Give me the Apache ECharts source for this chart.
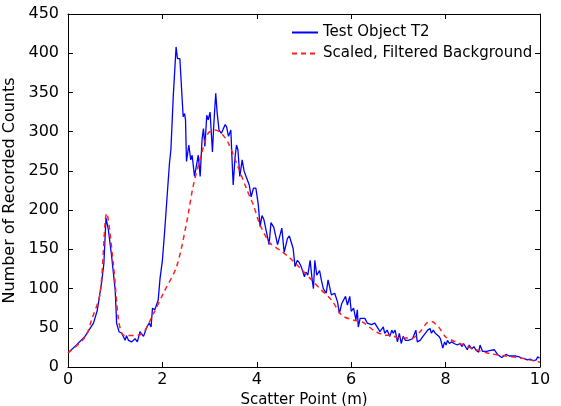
<!DOCTYPE html>
<html>
<head>
<meta charset="utf-8">
<script src="https://cdn.jsdelivr.net/npm/echarts@6/dist/echarts.min.js"></script>
<style>
  html, body { margin: 0; padding: 0; background: #fff; }
  #chart { width: 561px; height: 406px; }
</style>
</head>
<body>
<div id="chart"></div>
<script>
  // Test Object T2 (blue solid)
  var testX = [0, 0.18, 0.36, 0.54, 0.62, 0.71, 0.76, 0.805, 0.855, 0.925, 1.0, 1.03, 1.08, 1.14, 1.18, 1.21, 1.24, 1.28, 1.35, 1.42, 1.47, 1.525, 1.56, 1.6, 1.67, 1.72, 1.76, 1.79, 1.84, 1.91, 1.95, 2.0, 2.05, 2.09, 2.15, 2.18, 2.23, 2.29, 2.32, 2.37, 2.44, 2.47, 2.49, 2.51, 2.56, 2.6, 2.63, 2.68, 2.72, 2.76, 2.8, 2.84, 2.87, 2.9, 2.94, 2.97, 3.01, 3.06, 3.09, 3.13, 3.16, 3.2, 3.25, 3.28, 3.33, 3.36, 3.4, 3.45, 3.47, 3.5, 3.54, 3.57, 3.6, 3.64, 3.69, 3.73, 3.79, 3.84, 3.88, 3.93, 3.98, 4.03, 4.07, 4.11, 4.15, 4.18, 4.26, 4.3, 4.36, 4.44, 4.53, 4.58, 4.65, 4.69, 4.77, 4.81, 4.86, 4.9, 4.94, 5.01, 5.04, 5.08, 5.13, 5.17, 5.2, 5.23, 5.27, 5.3, 5.33, 5.37, 5.41, 5.47, 5.51, 5.55, 5.58, 5.61, 5.65, 5.71, 5.75, 5.8, 5.84, 5.88, 5.92, 5.97, 6.0, 6.05, 6.1, 6.13, 6.15, 6.19, 6.24, 6.29, 6.34, 6.43, 6.5, 6.53, 6.61, 6.65, 6.68, 6.71, 6.76, 6.82, 6.86, 6.89, 6.93, 6.98, 7.02, 7.06, 7.1, 7.15, 7.18, 7.21, 7.25, 7.3, 7.37, 7.4, 7.46, 7.52, 7.57, 7.62, 7.67, 7.7, 7.74, 7.78, 7.82, 7.86, 7.89, 7.94, 7.98, 8.01, 8.04, 8.08, 8.13, 8.18, 8.25, 8.3, 8.35, 8.38, 8.46, 8.5, 8.55, 8.6, 8.65, 8.7, 8.73, 8.78, 8.82, 8.87, 8.93, 9.03, 9.07, 9.1, 9.19, 9.23, 9.28, 9.35, 9.42, 9.49, 9.56, 9.61, 9.66, 9.73, 9.79, 9.86, 9.92, 9.95, 9.99]
  var testY = [18, 28, 39, 56, 72, 107, 132, 190, 175, 141, 98, 56, 45, 43, 38, 34, 40, 34, 32, 36, 32, 45, 47, 39, 51, 56, 51, 75, 73, 85, 113, 136, 175, 209, 260, 277, 345, 408, 393, 393, 319, 323, 315, 262, 283, 264, 270, 243, 243, 270, 243, 290, 304, 281, 321, 315, 325, 274, 310, 349, 324, 302, 298, 298, 309, 306, 294, 302, 272, 232, 268, 283, 277, 243, 264, 250, 240, 232, 217, 228, 228, 208, 179, 193, 188, 190, 156, 184, 178, 156, 177, 146, 164, 167, 151, 128, 136, 133, 128, 115, 121, 117, 136, 113, 100, 136, 117, 115, 123, 110, 100, 94, 111, 109, 92, 94, 94, 83, 68, 81, 83, 90, 79, 90, 71, 75, 60, 73, 51, 62, 62, 62, 56, 54, 56, 58, 45, 45, 51, 43, 47, 39, 47, 43, 47, 32, 43, 30, 39, 34, 32, 34, 36, 36, 47, 32, 34, 39, 43, 47, 49, 43, 47, 43, 45, 39, 36, 24, 32, 28, 34, 30, 32, 30, 28, 30, 26, 30, 22, 28, 23, 26, 21, 19, 28, 20, 22, 20, 21, 22, 22, 16, 12, 14, 16, 14, 14, 14, 13, 11, 11, 9, 10, 8, 9, 13, 11]

  // Scaled, Filtered Background (red dashed)
  var bgX = [0, 0.36, 0.5, 0.68, 0.82, 0.96, 1.07, 1.15, 1.24, 1.53, 1.81, 2.02, 2.3, 2.51, 2.65, 2.83, 2.97, 3.11, 3.25, 3.4, 3.57, 3.79, 3.93, 4.07, 4.28, 4.49, 4.7, 4.92, 5.13, 5.37, 5.59, 5.8, 6.04, 6.25, 6.47, 6.68, 6.86, 7.03, 7.3, 7.46, 7.6, 7.7, 7.85, 7.99, 8.1, 8.38, 8.65, 8.94, 9.28, 9.63, 9.93, 10]
  var bgY = [18, 38, 60, 94, 196, 132, 60, 42, 40, 41, 68, 94, 128, 183, 230, 272, 298, 302, 298, 285, 260, 226, 206, 181, 158, 149, 139, 126, 113, 98, 85, 66, 60, 57, 47, 41, 40, 37, 37, 45, 56, 58, 51, 39, 35, 28, 22, 17, 14, 11, 7, 6]

  var xTicks = [0, 2, 4, 6, 8, 10]
  var yTicks = [0, 50, 100, 150, 200, 250, 300, 350, 400, 450]

  function pairs(xs, ys) {
    return xs.map(function (x, i) { return [x, ys[i]] })
  }

  var font = 'DejaVu Sans'
  var myChart = echarts.init(document.getElementById('chart'))

  var frameAxis = {
    axisLine: { show: true, onZero: false, lineStyle: { color: '#000', width: 1 } },
    axisTick: { show: true, inside: true, length: 5, lineStyle: { color: '#000' } },
    splitLine: { show: false }
  }

  var option = {
    animation: false,
    backgroundColor: '#fff',
    textStyle: { fontFamily: font, color: '#000' },
    grid: { left: 68, right: 21, top: 14, bottom: 39, containLabel: false, outerBoundsMode: 'none' },
    legend: {
      orient: 'vertical',
      left: 286,
      top: 20,
      itemWidth: 26,
      itemHeight: 12,
      itemGap: 6,
      itemStyle: { opacity: 0 },
      textStyle: { fontFamily: font, fontSize: 15, color: '#000' },
      data: ['Test Object T2', 'Scaled, Filtered Background']
    },
    xAxis: [
      Object.assign({}, frameAxis, {
        type: 'value', min: 0, max: 10, interval: 2, position: 'bottom',
        name: 'Scatter Point (m)', nameLocation: 'middle', nameGap: 24,
        nameTextStyle: { fontFamily: font, fontSize: 15, color: '#000' },
        axisLabel: { fontFamily: font, fontSize: 16, color: '#000', margin: 5,
          formatter: function (v) { return xTicks.indexOf(v) >= 0 ? String(v) : '' } }
      }),
      Object.assign({}, frameAxis, {
        type: 'value', min: 0, max: 10, interval: 2, position: 'top',
        axisLabel: { show: false }
      })
    ],
    yAxis: [
      Object.assign({}, frameAxis, {
        type: 'value', min: 0, max: 450, interval: 50, position: 'left',
        name: 'Number of Recorded Counts', nameLocation: 'middle', nameGap: 39,
        nameTextStyle: { fontFamily: font, fontSize: 16, color: '#000' },
        axisLabel: { fontFamily: font, fontSize: 16, color: '#000', margin: 9,
          formatter: function (v) { return yTicks.indexOf(v) >= 0 ? String(v) : '' } }
      }),
      Object.assign({}, frameAxis, {
        type: 'value', min: 0, max: 450, interval: 50, position: 'right',
        axisLabel: { show: false }
      })
    ],
    series: [
      {
        name: 'Test Object T2',
        type: 'line',
        showSymbol: false,
        symbol: 'none',
        lineStyle: { color: '#0000ff', width: 1.3 },
        itemStyle: { color: '#0000ff' },
        data: pairs(testX, testY),
        z: 3
      },
      {
        name: 'Scaled, Filtered Background',
        type: 'line',
        showSymbol: false,
        symbol: 'none',
        smooth: 0.3,
        lineStyle: { color: '#ff2020', width: 1.5, type: [5, 4] },
        itemStyle: { color: '#ff2020' },
        data: pairs(bgX, bgY),
        z: 4
      }
    ]
  }

  myChart.setOption(option)
</script>
</body>
</html>
